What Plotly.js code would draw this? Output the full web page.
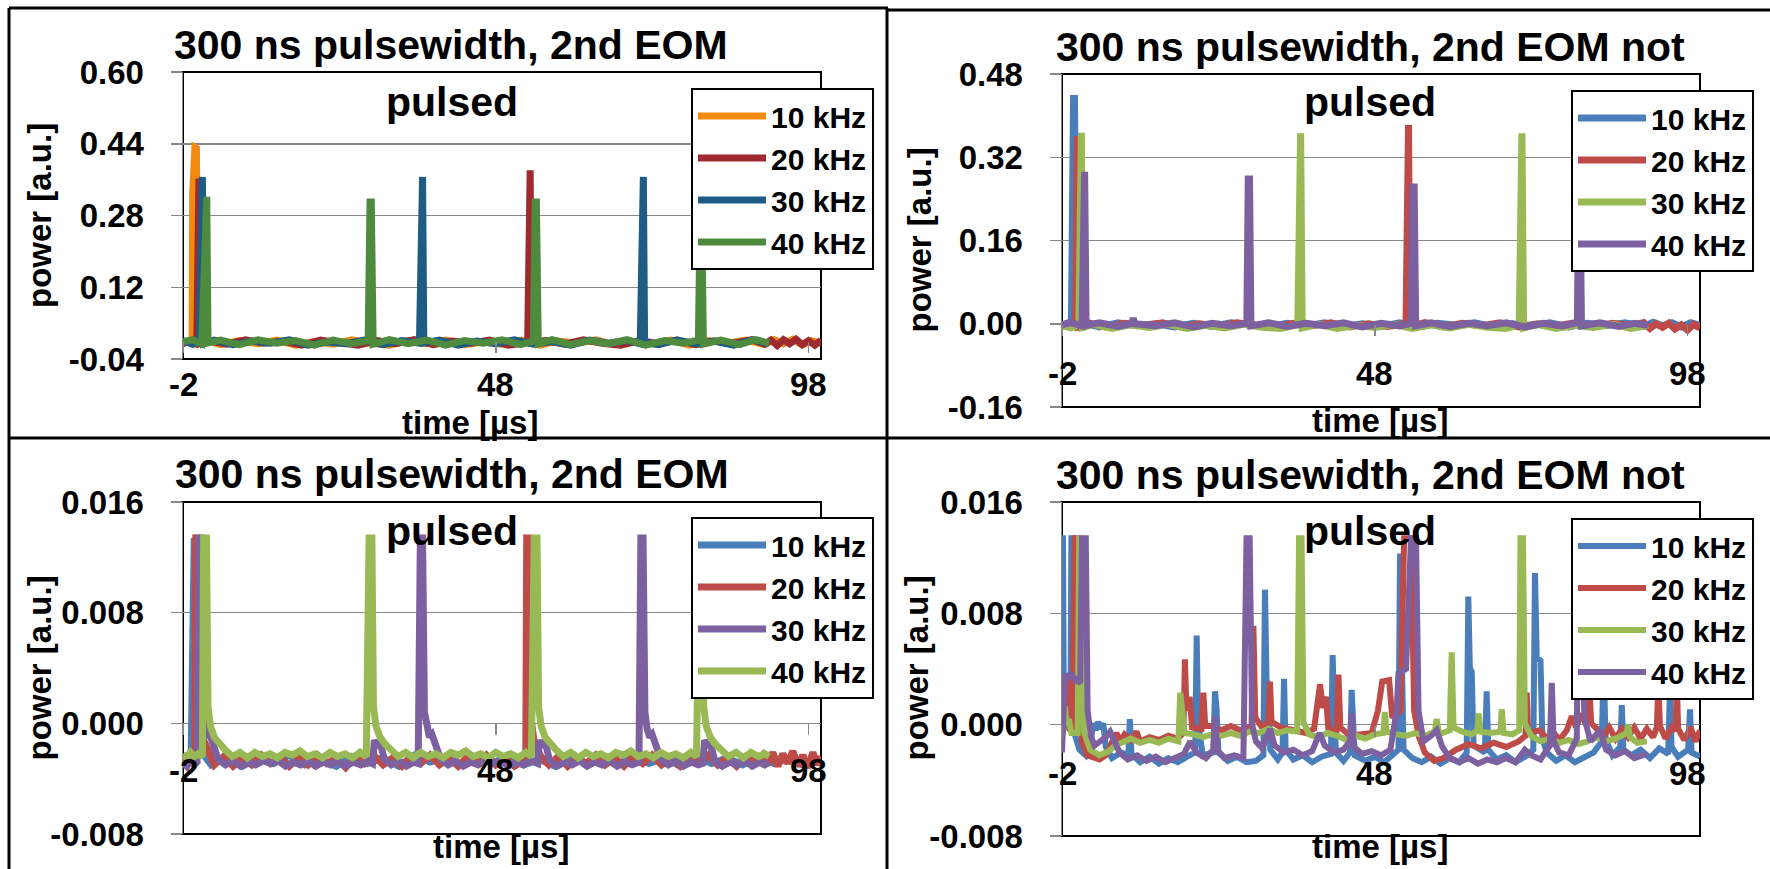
<!DOCTYPE html>
<html><head><meta charset="utf-8">
<script src="https://cdn.plot.ly/plotly-3.0.1.min.js"></script>
<style>html,body{margin:0;padding:0;background:#fff;}#chart{width:1770px;height:869px;}</style>
</head><body><div id="chart"></div>
<script>
const W = 1770, H = 869;
const FONT = 'Liberation Sans, Arial, Helvetica, sans-serif';

const seriesNames = ['10 kHz', '20 kHz', '30 kHz', '40 kHz'];
const titleLine1 = ['300 ns pulsewidth, 2nd EOM', '300 ns pulsewidth, 2nd EOM not', '300 ns pulsewidth, 2nd EOM', '300 ns pulsewidth, 2nd EOM not'];
const titleLine2 = 'pulsed';
const yAxisTitle = 'power [a.u.]';
const xAxisTitle = 'time [µs]';
const xTickVals = [-2, 48, 98];
const xTickText = ['-2', '48', '98'];
const yTickVals1 = [-0.04, 0.12, 0.28, 0.44, 0.60];
const yTickText1 = ['-0.04', '0.12', '0.28', '0.44', '0.60'];
const yTickVals2 = [-0.16, 0.00, 0.16, 0.32, 0.48];
const yTickText2 = ['-0.16', '0.00', '0.16', '0.32', '0.48'];
const yTickVals34 = [-0.008, 0.000, 0.008, 0.016];
const yTickText34 = ['-0.008', '0.000', '0.008', '0.016'];

const p1_10k = [[-2,-0.004],[-1.0,0.001],[-0.55,-0.006],[-0.45,0.33],[-0.1,0.432],[0.15,0.43],[0.35,-0.005],[1.5,0.002],[4,-0.008],[7,0.001],[10,-0.006],[13,0.002],[16,-0.009],[19,-0.001],[22,-0.007],[25,0.003],[28,-0.005],[31,-0.009],[34,0.001],[37,-0.006],[40,0.002],[43,-0.008],[46,-0.002],[49,-0.007],[52,0.002],[55,-0.009],[58,0.000],[61,-0.005],[64,0.003],[67,-0.008],[70,-0.002],[73,-0.006],[76,0.002],[79,-0.009],[82,0.001],[85,-0.005],[88,0.002],[91,-0.008],[92.5,0.003],[94,-0.006],[95.5,0.004],[97,-0.009],[98.5,0.001],[100,-0.005]];
const p1_20k = [[-2,-0.006],[-0.5,0.002],[0.2,-0.004],[0.35,0.3625],[0.55,0.3625],[0.75,-0.005],[2,0.001],[5,-0.007],[8,0.003],[11,-0.005],[14,0.000],[17,-0.009],[20,0.002],[23,-0.004],[26,-0.009],[29,0.001],[32,-0.006],[35,0.003],[38,-0.008],[41,0.000],[44,-0.005],[47,0.002],[50,-0.009],[53.1,-0.003],[53.3,0.381],[53.5,0.381],[53.7,-0.004],[56,0.001],[59,-0.007],[62,0.003],[65,-0.005],[68,-0.009],[71,0.001],[74,-0.006],[77,0.002],[80,-0.008],[83,0.000],[86,-0.005],[89,0.003],[91,-0.007],[92,0.002],[93,-0.010],[94,0.003],[95,-0.006],[96,0.004],[97,-0.008],[98,0.001],[99,-0.009],[100,0.002]];
const p1_30k = [[-2,0.001],[-0.5,-0.007],[0.6,-0.002],[0.85,0.366],[1.1,0.366],[1.3,-0.006],[3,0.002],[6,-0.008],[9,0.000],[12,-0.005],[15,0.003],[18,-0.009],[21,-0.002],[24,-0.006],[27,0.002],[30,-0.008],[33,0.001],[35.8,-0.005],[36.05,0.366],[36.3,0.366],[36.5,-0.004],[39,0.002],[42,-0.009],[45,0.000],[48,-0.006],[51,0.003],[54,-0.007],[57,-0.001],[60,-0.009],[63,0.002],[66,-0.005],[69,0.001],[71.1,-0.006],[71.35,0.366],[71.6,0.366],[71.8,-0.003],[74,-0.008],[77,0.002],[80,-0.006],[83,0.000],[86,-0.009],[89,0.002],[91.7,-0.005]];
const p1_40k = [[-2,-0.002],[-0.5,0.003],[1.0,-0.006],[1.55,0.3215],[1.8,0.3215],[2.0,-0.004],[4,0.002],[7,-0.008],[10,0.003],[13,-0.005],[16,0.001],[19,-0.009],[22,0.002],[25,-0.006],[27.6,0.001],[27.9,0.31],[28.1,0.31],[28.4,-0.007],[31,0.003],[34,-0.006],[37,0.002],[40,-0.009],[43,0.001],[46,-0.005],[49,0.003],[52,-0.008],[54.0,0.000],[54.3,0.31],[54.5,0.31],[54.8,-0.006],[57,0.003],[60,-0.008],[63,0.001],[66,-0.006],[69,0.003],[72,-0.009],[75,0.001],[78,-0.005],[80.4,0.002],[80.7,0.31],[80.9,0.31],[81.2,-0.007],[84,0.002],[87,-0.008],[89.5,0.003],[91.7,-0.004]];

const p2_10k = [[-2,-0.003],[-1.2,0.001],[-0.5,-0.005],[-0.4,0.328],[-0.15,0.433],[0.0,0.433],[0.2,-0.004],[1.5,0.001],[4,-0.006],[7,0.002],[10,-0.004],[13,0.000],[16,-0.006],[19,0.001],[22,-0.005],[25,0.002],[28,-0.003],[31,-0.006],[34,0.001],[37,-0.004],[40,0.002],[43,-0.006],[46,0.000],[49,-0.005],[52,0.002],[55,-0.006],[58,0.001],[61,-0.003],[64,0.002],[67,-0.006],[70,0.000],[73,-0.004],[76,0.002],[79,-0.006],[82,0.001],[85,-0.004],[88,0.002],[91,-0.005],[92.5,0.003],[94,-0.004],[95.5,0.002],[97,-0.006],[98.5,0.002],[100,-0.003]];
const p2_20k = [[-2,-0.005],[-0.6,0.001],[0.2,-0.004],[0.28,0.361],[0.45,0.361],[0.6,-0.005],[2,0.002],[5,-0.006],[8,0.001],[11,-0.004],[14,0.002],[17,-0.006],[20,0.000],[23,-0.005],[26,0.002],[29,-0.003],[32,-0.006],[35,0.001],[38,-0.004],[41,0.002],[44,-0.006],[47,0.000],[50,-0.005],[53.0,0.000],[53.2,0.382],[53.4,0.382],[53.6,-0.005],[56,0.002],[59,-0.006],[62,0.001],[65,-0.004],[68,0.002],[71,-0.006],[74,0.000],[77,-0.004],[80,0.002],[83,-0.006],[86,0.001],[89,-0.004],[91,0.002],[92,-0.009],[93,0.000],[94,-0.007],[95,0.001],[96,-0.010],[97,-0.002],[98,-0.012],[99,-0.001],[100,-0.008]];
const p2_30k = [[-2,-0.003],[-0.6,-0.008],[0.7,-0.002],[0.88,0.367],[1.1,0.367],[1.3,-0.007],[3,-0.001],[6,-0.009],[9,-0.002],[12,-0.007],[15,-0.001],[18,-0.009],[21,-0.003],[24,-0.008],[27,-0.001],[30,-0.007],[33,-0.009],[35.7,-0.002],[35.95,0.366],[36.15,0.366],[36.4,-0.008],[39,-0.001],[42,-0.009],[45,-0.003],[48,-0.007],[51,-0.001],[54,-0.009],[57,-0.002],[60,-0.008],[63,-0.001],[66,-0.007],[69,-0.009],[71.1,-0.002],[71.33,0.366],[71.53,0.366],[71.8,-0.008],[74,-0.001],[77,-0.009],[80,-0.003],[83,-0.007],[86,-0.001],[89,-0.009],[91.7,-0.003]];
const p2_40k = [[-2,-0.002],[-0.6,0.002],[1.2,-0.004],[1.42,0.292],[1.62,0.292],[1.85,-0.003],[4,0.002],[7,-0.005],[9.2,0.001],[9.4,0.011],[9.6,0.000],[13,-0.004],[16,0.002],[19,-0.006],[22,0.001],[25,-0.004],[27.55,0.001],[27.78,0.278],[27.98,0.278],[28.2,-0.004],[31,0.002],[34,-0.005],[37,0.001],[40,-0.004],[43,0.002],[46,-0.006],[49,0.001],[52,-0.004],[53.9,0.001],[54.1,0.263],[54.3,0.263],[54.55,-0.004],[57,0.002],[60,-0.005],[63,0.001],[66,-0.004],[69,0.002],[72,-0.006],[75,0.001],[78,-0.004],[80.4,0.002],[80.6,0.27],[80.8,0.27],[81.05,-0.004],[84,0.002],[87,-0.005],[89.5,0.001],[91.7,-0.003]];

const p3_10k = [[-2,-0.0026],[-1.3,-0.0030],[-0.7,-0.0024],[-0.55,0.0067],[-0.45,0.0134],[-0.2,0.0134],[0.05,0.0006],[0.5,-0.0012],[1.2,-0.0022],[2.5,-0.0030],[5,-0.0024],[7.5,-0.0031],[10,-0.0025],[12.5,-0.0029],[15,-0.0023],[17.5,-0.0030],[20,-0.0026],[22.5,-0.0031],[25,-0.0024],[27.5,-0.0029],[30,-0.0025],[32.5,-0.0031],[35,-0.0023],[37.5,-0.0028],[40,-0.0025],[42.5,-0.0030],[45,-0.0024],[47.5,-0.0029],[50,-0.0023],[52.5,-0.0030],[55,-0.0026],[57.5,-0.0031],[60,-0.0024],[62.5,-0.0029],[65,-0.0025],[67.5,-0.0030],[70,-0.0023],[72.5,-0.0029],[75,-0.0025],[77.5,-0.0031],[80,-0.0024],[82.5,-0.0029],[85,-0.0025],[87.5,-0.0030],[90,-0.0024],[92.5,-0.0029],[95,-0.0025],[97.5,-0.0031],[100,-0.0026]];
const p3_20k = [[-2,-0.0029],[-1,-0.0024],[-0.1,-0.0027],[0.05,0.0134],[0.35,0.0134],[0.6,0.0008],[1.1,-0.0010],[2,-0.0021],[3,-0.0030],[4.5,-0.0024],[6,-0.0031],[7.5,-0.0025],[9,-0.0030],[10.5,-0.0023],[12,-0.0029],[13.5,-0.0024],[15,-0.0031],[16.5,-0.0025],[18,-0.0030],[19.5,-0.0023],[21,-0.0029],[22.5,-0.0025],[24,-0.0032],[25.5,-0.0024],[27,-0.0029],[28.5,-0.0023],[30,-0.0030],[31.5,-0.0025],[33,-0.0031],[34.5,-0.0024],[36,-0.0029],[37.5,-0.0023],[39,-0.0030],[40.5,-0.0025],[42,-0.0031],[43.5,-0.0024],[45,-0.0029],[46.5,-0.0023],[48,-0.0030],[49.5,-0.0025],[51,-0.0031],[52.8,-0.0026],[52.95,0.0134],[53.3,0.0134],[53.55,0.0006],[54.1,-0.0012],[55.2,-0.0024],[56.5,-0.0030],[58,-0.0024],[59.5,-0.0031],[61,-0.0025],[62.5,-0.0029],[64,-0.0023],[65.5,-0.0030],[67,-0.0025],[68.5,-0.0031],[70,-0.0024],[71.5,-0.0029],[73,-0.0023],[74.5,-0.0030],[76,-0.0025],[77.5,-0.0031],[79,-0.0024],[80.5,-0.0029],[82,-0.0023],[83.5,-0.0030],[85,-0.0025],[86.5,-0.0031],[88,-0.0024],[89.5,-0.0029],[90.7,-0.0023],[91.5,-0.0030],[92.3,-0.0021],[93.1,-0.0031],[93.9,-0.0022],[94.7,-0.0029],[95.5,-0.0020],[96.3,-0.0031],[97.1,-0.0023],[97.9,-0.0032],[98.7,-0.0021],[99.4,-0.0030],[100,-0.0024]];
const p3_30k = [[-2,-0.0028],[-1.4,-0.0031],[-0.8,-0.0027],[-0.2,-0.0030],[0.25,-0.0028],[0.55,0.0134],[0.9,0.0134],[1.15,0.0008],[1.5,-0.0004],[1.9,-0.0010],[2.3,-0.0008],[2.9,-0.0017],[3.6,-0.0026],[4.8,-0.0030],[6.0,-0.0027],[7.2,-0.0031],[8.4,-0.0028],[9.6,-0.0030],[10.8,-0.0027],[12.0,-0.0029],[13.2,-0.0027],[14.4,-0.0031],[15.6,-0.0028],[16.8,-0.0030],[18.0,-0.0027],[19.2,-0.0031],[20.4,-0.0028],[21.6,-0.0030],[22.8,-0.0027],[24.0,-0.0031],[25.2,-0.0028],[26.4,-0.0030],[27.5,-0.0027],[28.3,-0.0029],[28.6,-0.0012],[29.0,-0.0017],[29.5,-0.0014],[30.2,-0.0026],[31.3,-0.0030],[32.5,-0.0027],[33.7,-0.0031],[34.9,-0.0028],[35.6,-0.0029],[35.95,0.0134],[36.3,0.0134],[36.6,0.0008],[37.0,-0.0004],[37.4,-0.0010],[37.8,-0.0008],[38.4,-0.0017],[39.2,-0.0026],[40.4,-0.0030],[41.6,-0.0027],[42.8,-0.0031],[44.0,-0.0028],[45.2,-0.0030],[46.4,-0.0027],[47.6,-0.0029],[48.8,-0.0027],[50.0,-0.0031],[51.2,-0.0028],[52.4,-0.0030],[53.6,-0.0027],[54.7,-0.0029],[55.0,-0.0012],[55.4,-0.0017],[55.9,-0.0013],[56.6,-0.0027],[57.8,-0.0031],[59.0,-0.0028],[60.2,-0.0030],[61.4,-0.0027],[62.6,-0.0031],[63.8,-0.0028],[65.0,-0.0030],[66.2,-0.0027],[67.4,-0.0031],[68.6,-0.0028],[69.8,-0.0030],[70.9,-0.0028],[71.2,0.0134],[71.55,0.0134],[71.85,0.0008],[72.2,-0.0004],[72.6,-0.0010],[73.0,-0.0008],[73.6,-0.0017],[74.4,-0.0026],[75.6,-0.0030],[76.8,-0.0027],[78.0,-0.0031],[79.2,-0.0028],[80.4,-0.0030],[81.1,-0.0029],[81.4,-0.0012],[81.8,-0.0017],[82.3,-0.0014],[83,-0.0027],[84.2,-0.0031],[85.4,-0.0028],[86.6,-0.0030],[87.8,-0.0027],[89.0,-0.0031],[90.2,-0.0028],[91.0,-0.0030],[91.7,-0.0028]];
const p3_40k = [[-2,-0.0022],[-1.4,-0.0025],[-0.8,-0.0021],[-0.2,-0.0024],[0.4,-0.0022],[1.1,-0.0024],[1.3,0.0134],[1.75,0.0134],[2.0,0.0012],[2.4,-0.0002],[3.0,-0.0010],[3.8,-0.0015],[4.7,-0.0019],[5.9,-0.0024],[7.1,-0.0021],[8.3,-0.0025],[9.5,-0.0021],[10.7,-0.0024],[11.9,-0.0022],[13.1,-0.0025],[14.3,-0.0021],[15.5,-0.0023],[16.7,-0.0020],[17.9,-0.0024],[19.1,-0.0022],[20.3,-0.0025],[21.5,-0.0021],[22.7,-0.0024],[23.9,-0.0022],[25.1,-0.0025],[26.3,-0.0021],[27.3,-0.0024],[27.75,0.0134],[28.2,0.0134],[28.45,0.0012],[28.85,-0.0002],[29.5,-0.0010],[30.3,-0.0015],[31.2,-0.0019],[32.4,-0.0024],[33.6,-0.0021],[34.8,-0.0025],[36.0,-0.0021],[37.2,-0.0024],[38.4,-0.0022],[39.6,-0.0025],[40.8,-0.0021],[42.0,-0.0023],[43.2,-0.0020],[44.4,-0.0024],[45.6,-0.0022],[46.8,-0.0025],[48.0,-0.0021],[49.2,-0.0024],[50.4,-0.0022],[51.6,-0.0025],[52.8,-0.0021],[53.7,-0.0024],[54.15,0.0134],[54.6,0.0134],[54.85,0.0012],[55.25,-0.0002],[55.9,-0.0010],[56.7,-0.0015],[57.6,-0.0019],[58.8,-0.0024],[60.0,-0.0021],[61.2,-0.0025],[62.4,-0.0021],[63.6,-0.0024],[64.8,-0.0022],[66.0,-0.0025],[67.2,-0.0021],[68.4,-0.0023],[69.6,-0.0020],[70.8,-0.0024],[72.0,-0.0022],[73.2,-0.0025],[74.4,-0.0021],[75.6,-0.0024],[76.8,-0.0022],[78.0,-0.0025],[79.2,-0.0021],[80.1,-0.0024],[80.55,0.0134],[81.0,0.0134],[81.25,0.0012],[81.65,-0.0002],[82.3,-0.0010],[83.1,-0.0015],[84,-0.0019],[85.2,-0.0024],[86.4,-0.0021],[87.6,-0.0025],[88.8,-0.0021],[90.0,-0.0024],[91.0,-0.0022],[91.7,-0.0024]];

const p4_10k = [[-2,0.0134],[-1.85,0.0134],[-1.7,0.0012],[-1.3,0.0004],[-0.9,0.0008],[-0.65,0.0002],[-0.5,0.0134],[-0.2,0.0134],[0.1,-0.0008],[0.8,-0.0018],[1.8,-0.0022],[2.6,-0.0012],[3.0,0.0001],[3.4,-0.0004],[3.8,0.0002],[4.2,-0.0003],[4.6,0.0001],[5.0,-0.0016],[6.0,-0.0024],[7.5,-0.0020],[8.6,-0.0022],[8.85,0.0004],[9.1,-0.0021],[10.5,-0.0027],[12,-0.0023],[13.5,-0.0028],[15,-0.0024],[16.5,-0.0027],[18,-0.0023],[19.3,-0.0020],[19.53,0.0064],[19.75,0.0002],[20.5,-0.0022],[22.2,-0.0020],[22.46,0.0024],[22.7,0.0012],[23.0,-0.0020],[24.5,-0.0026],[26,-0.0023],[27.5,-0.0027],[29,-0.0026],[30.2,-0.0022],[30.45,0.0097],[30.7,0.0032],[31.0,0.0028],[31.3,-0.0018],[32.5,-0.0025],[33.25,-0.0020],[33.5,0.0033],[33.75,-0.0018],[35,-0.0025],[36.5,-0.0022],[38,-0.0027],[39.5,-0.0023],[41.0,-0.0021],[41.27,0.0050],[41.5,0.0010],[41.8,-0.0020],[43,-0.0026],[44.05,-0.0020],[44.31,0.0025],[44.55,0.0005],[44.8,-0.0022],[46.5,-0.0026],[48,-0.0023],[49.5,-0.0027],[51,-0.0022],[51.8,-0.0018],[52.04,0.0123],[52.3,0.0015],[52.6,-0.0018],[54,-0.0024],[55.5,-0.0027],[57,-0.0023],[58.5,-0.0028],[60,-0.0024],[61.5,-0.0027],[62.7,-0.0020],[62.96,0.0092],[63.2,0.0041],[63.5,0.0038],[63.8,-0.0015],[65.6,-0.0020],[65.89,0.0024],[66.15,-0.0018],[67.5,-0.0025],[69,-0.0022],[70.5,-0.0027],[72,-0.0023],[73.35,-0.0018],[73.62,0.0109],[73.9,0.0048],[74.5,0.0046],[74.8,-0.0010],[75.5,-0.0020],[77,-0.0026],[78.5,-0.0022],[80,-0.0027],[81.5,-0.0023],[83,-0.0020],[84.3,-0.0012],[84.6,0.0045],[84.9,-0.0010],[86,-0.0022],[87.25,-0.0016],[87.5,0.0014],[87.75,-0.0018],[89,-0.0022],[90.5,-0.0018],[92,-0.0024],[93.5,-0.0017],[94.9,-0.0021],[95.2,0.0025],[95.45,-0.0016],[96.5,-0.0023],[98.1,-0.0018],[98.4,0.0011],[98.65,-0.0020],[100,-0.0023]];
const p4_20k = [[-2,-0.0008],[-1.6,0.0002],[-1.45,0.0031],[-1.25,0.0031],[-1.05,-0.0002],[-0.4,-0.0005],[0.05,0.0134],[0.4,0.0134],[0.7,0.0010],[1.2,-0.0012],[2,-0.0022],[3,-0.0024],[4,-0.0025],[5,-0.0022],[6,-0.0012],[6.7,-0.0006],[7.3,-0.0012],[8,-0.0007],[9,-0.0011],[9.9,-0.0005],[10.5,-0.0012],[12,-0.0009],[13.5,-0.0011],[15,-0.0008],[16.5,-0.0010],[17.4,-0.0006],[17.65,0.0047],[17.9,0.0010],[18.4,0.0020],[18.8,-0.0002],[20.3,-0.0003],[20.6,0.0023],[20.9,-0.0001],[22,-0.0001],[23.5,-0.0004],[25,-0.0001],[26.5,-0.0004],[28.3,-0.0001],[28.6,0.0071],[28.9,0.0005],[30,-0.0002],[31.0,0.0002],[31.25,0.0031],[31.5,0.0002],[33,-0.0002],[35,-0.0004],[37,-0.0006],[38.3,-0.0003],[38.8,0.0018],[39.25,0.0029],[39.7,0.0012],[40.2,0.0020],[40.6,-0.0004],[41.9,-0.0004],[42.2,0.0036],[42.5,-0.0002],[44,-0.0008],[46,-0.0007],[47.5,-0.0006],[48.5,0.0010],[49.2,0.0031],[50.3,0.0032],[50.8,0.0005],[52.1,0.0010],[52.7,0.0134],[53.8,0.0134],[54.3,0.0010],[55,-0.0008],[56,-0.0020],[57.5,-0.0026],[59,-0.0024],[61,-0.0018],[63,-0.0014],[65,-0.0017],[67,-0.0013],[69,-0.0016],[71,-0.0012],[72.1,-0.0008],[72.3,0.0023],[72.5,-0.0006],[74.4,-0.0004],[75.5,-0.0010],[76.5,-0.0005],[77.5,-0.0011],[78.7,-0.0004],[79.5,0.0006],[80.2,-0.0002],[81,0.0008],[81.8,0.0000],[82.2,0.0040],[82.6,0.0001],[83.5,-0.0003],[84.5,-0.0009],[85.5,-0.0002],[86.5,-0.0010],[87.5,-0.0003],[88.5,-0.0009],[89.5,-0.0002],[90.5,-0.0010],[91.5,-0.0003],[92.5,-0.0009],[93.1,-0.0002],[93.34,0.0030],[93.6,-0.0001],[94.5,-0.0010],[95.5,-0.0002],[96.1,-0.0004],[96.3,0.0030],[96.5,-0.0003],[97.5,-0.0011],[98.5,-0.0002],[99.3,-0.0012],[100,-0.0004]];
const p4_30k = [[-2,0.0003],[-1.8,-0.0004],[-1.5,0.0013],[-1.3,0.0000],[-0.9,0.0004],[-0.5,-0.0006],[0.5,-0.0006],[0.75,0.0134],[1.15,0.0134],[1.5,-0.0005],[2.5,-0.0018],[4,-0.0022],[5.5,-0.0019],[6.5,-0.0015],[7.5,-0.0013],[9,-0.0010],[10.5,-0.0013],[12,-0.0011],[13.5,-0.0013],[15,-0.0010],[16.6,-0.0012],[16.9,0.0023],[17.2,0.0011],[17.6,-0.0006],[19,-0.0007],[20.5,-0.0009],[22,-0.0007],[23.5,-0.0008],[25,-0.0006],[26.5,-0.0008],[28,-0.0005],[29.5,-0.0006],[31,-0.0003],[32.5,-0.0006],[34,-0.0004],[35.6,-0.0005],[35.9,0.0134],[36.3,0.0134],[36.6,0.0002],[37.5,-0.0007],[39,-0.0009],[40.5,-0.0006],[42,-0.0008],[43.5,-0.0011],[45,-0.0008],[46.5,-0.0010],[48,-0.0007],[49.4,-0.0006],[49.6,0.0009],[49.9,-0.0005],[51.5,-0.0007],[53,-0.0008],[54.5,-0.0006],[56,-0.0008],[57.6,-0.0005],[57.9,0.0004],[58.3,-0.0007],[60.0,-0.0004],[60.3,0.0052],[60.6,-0.0002],[62,-0.0005],[63.5,-0.0007],[64.4,-0.0004],[64.6,0.0008],[64.9,-0.0005],[66.5,-0.0006],[68.1,-0.0005],[68.3,0.0011],[68.6,-0.0006],[70,-0.0007],[71.1,-0.0004],[71.3,0.0134],[71.7,0.0134],[72,0.0001],[73,-0.0008],[74.5,-0.0012],[76,-0.0010],[77.5,-0.0013],[79,-0.0011],[80.5,-0.0014],[82,-0.0012],[83.5,-0.0009],[85,-0.0012],[86.5,-0.0010],[88.3,-0.0006],[88.5,0.0000],[88.8,-0.0009],[90,-0.0013],[91.5,-0.0012]];
const p4_40k = [[-2,-0.0020],[-1.8,0.0010],[-1.5,0.0036],[-1.0,0.0034],[-0.5,0.0036],[0.2,0.0032],[0.9,0.0030],[1.2,0.0134],[1.8,0.0134],[2.1,0.0010],[2.6,-0.0008],[3.2,-0.0015],[4.2,-0.0012],[5.0,-0.0009],[5.7,-0.0005],[6.4,-0.0012],[7.2,-0.0020],[8.5,-0.0025],[10,-0.0022],[11.5,-0.0026],[13,-0.0023],[14.5,-0.0027],[16,-0.0024],[17.5,-0.0021],[18.5,-0.0012],[19.5,-0.0020],[21,-0.0024],[22.2,-0.0018],[22.46,0.0006],[22.8,-0.0018],[24,-0.0024],[25.5,-0.0022],[27.0,-0.0024],[27.5,0.0134],[28.0,0.0134],[28.4,0.0000],[29,-0.0012],[30,-0.0017],[31.25,-0.0003],[32,-0.0015],[33.5,-0.0020],[35,-0.0018],[36.5,-0.0022],[38,-0.0019],[39.2,-0.0006],[40,-0.0015],[41.5,-0.0020],[43,-0.0018],[44.0,-0.0012],[44.3,0.0008],[44.6,-0.0016],[46,-0.0021],[47.5,-0.0019],[49,-0.0022],[50.5,-0.0018],[51.5,0.0010],[51.8,0.0037],[53.0,0.0040],[53.8,0.0134],[54.6,0.0134],[55.0,0.0010],[55.8,-0.0012],[57.0,-0.0008],[57.9,-0.0004],[58.8,-0.0016],[60,-0.0024],[61.5,-0.0027],[63,-0.0024],[64.5,-0.0028],[66,-0.0025],[67.5,-0.0027],[69,-0.0024],[70.5,-0.0027],[72,-0.0018],[73,-0.0022],[74.5,-0.0025],[76.0,-0.0015],[76.3,0.0030],[76.6,-0.0012],[77.5,-0.0020],[79,-0.0022],[80.3,-0.0010],[80.6,0.0134],[81.1,0.0134],[81.5,0.0005],[82.5,-0.0012],[84.0,-0.0004],[85,-0.0018],[86.5,-0.0022],[88,-0.0019],[89.5,-0.0024],[91.5,-0.0021]];

const colorsP1 = ['#F28A10', '#9E2A2F', '#1E5C84', '#4F8B3F'];
const cBlue = '#4A7EBB', cRed = '#BE4B48', cGreen = '#98B954', cPurple = '#7D60A0';
const colorsP2 = [cBlue, cRed, cGreen, cPurple];
const colorsP3 = [cBlue, cRed, cPurple, cGreen];
const colorsP4 = [cBlue, cRed, cGreen, cPurple];

// layout geometry (pixels)
const panels = [
  {series: [p1_10k, p1_20k, p1_30k, p1_40k], colors: colorsP1, yr: [-0.04, 0.60], tv: yTickVals1, tt: yTickText1, lw: 7, xl: 384,
   box: {l: 183, r: 821, t: 72, b: 359}, t1: {x: 451, y: 45}, t2: {x: 452, y: 102}, yt: {x: 39, y: 216}, xt: {x: 470, y: 422}, lg: {x: 691, y: 88}},
  {series: [p2_10k, p2_20k, p2_30k, p2_40k], colors: colorsP2, yr: [-0.16, 0.48], tv: yTickVals2, tt: yTickText2, lw: 7, xl: 373,
   box: {l: 1062, r: 1700, t: 74, b: 407}, t1: {x: 1370, y: 46.5}, t2: {x: 1370, y: 102}, yt: {x: 918.5, y: 240}, xt: {x: 1380, y: 421}, lg: {x: 1571, y: 90}},
  {series: [p3_10k, p3_20k, p3_30k, p3_40k], colors: colorsP3, yr: [-0.008, 0.016], tv: yTickVals34, tt: yTickText34, lw: 7, xl: 770,
   box: {l: 183, r: 821, t: 502, b: 834}, t1: {x: 452, y: 473.5}, t2: {x: 452, y: 531}, yt: {x: 38.5, y: 668}, xt: {x: 501, y: 846}, lg: {x: 691, y: 517}},
  {series: [p4_10k, p4_20k, p4_30k, p4_40k], colors: colorsP4, yr: [-0.008, 0.016], tv: yTickVals34, tt: yTickText34, lw: 6, xl: 773,
   box: {l: 1062, r: 1700, t: 502, b: 836}, t1: {x: 1370, y: 474.5}, t2: {x: 1370, y: 531}, yt: {x: 915.5, y: 668}, xt: {x: 1380, y: 846}, lg: {x: 1571, y: 518}}
];

const px = v => v / W;
const py = v => 1 - v / H;
const bold = (size) => ({family: FONT, size: size, color: '#000', weight: 'bold'});

const traces = [];
const layout = {
  width: W, height: H, margin: {l: 0, r: 0, t: 0, b: 0},
  paper_bgcolor: '#fff', plot_bgcolor: 'rgba(0,0,0,0)',
  showlegend: true, annotations: [], shapes: [], font: {family: FONT}
};

panels.forEach((p, i) => {
  const n = i === 0 ? '' : String(i + 1);
  const xa = 'x' + n, ya = 'y' + n, lgName = 'legend' + n;
  p.series.forEach((s, j) => {
    traces.push({
      type: 'scatter', mode: 'lines', name: seriesNames[j],
      x: s.map(d => d[0]), y: s.map(d => d[1]),
      xaxis: xa, yaxis: ya, legend: lgName,
      line: {color: p.colors[j], width: p.lw},
      hoverinfo: 'skip'
    });
  });
  const yDom = [py(p.box.b), py(p.box.t)];
  const zeroPos = yDom[0] + (0 - p.yr[0]) / (p.yr[1] - p.yr[0]) * (yDom[1] - yDom[0]);
  layout['xaxis' + n] = {
    domain: [px(p.box.l), px(p.box.r)], anchor: 'free', position: zeroPos,
    range: [-2, 100], tickmode: 'array', tickvals: xTickVals, ticktext: xTickText,
    ticks: 'outside', ticklen: 11, tickwidth: 1.5, tickcolor: '#888',
    showticklabels: false, showline: false, showgrid: false, zeroline: false, fixedrange: true
  };
  layout['yaxis' + n] = {
    domain: yDom, anchor: xa, range: p.yr, tickmode: 'array', tickvals: p.tv, ticktext: p.tt,
    ticks: 'outside', ticklen: 11, tickwidth: 1.5, tickcolor: '#888',
    showline: true, linecolor: '#888', linewidth: 1.5,
    showgrid: true, gridcolor: '#888', gridwidth: 1.5, zeroline: false,
    tickfont: bold(33), ticklabelstandoff: 20, fixedrange: true
  };
  layout[lgName] = {
    x: px(p.lg.x), y: py(p.lg.y), xanchor: 'left', yanchor: 'top', xref: 'paper', yref: 'paper',
    bgcolor: '#fff', bordercolor: '#000', borderwidth: 2, font: bold(30),
    itemwidth: 68, tracegroupgap: 0, itemclick: false, itemdoubleclick: false
  };
  layout.shapes.push({type: 'rect', xref: xa + ' domain', yref: ya + ' domain', x0: 0, x1: 1, y0: 0, y1: 1,
    line: {color: '#000', width: 2}, layer: 'below'});
  xTickVals.forEach((v, k) => {
    layout.annotations.push({xref: xa, yref: 'paper', x: v, y: py(p.xl), xanchor: 'center', yanchor: 'middle',
      text: xTickText[k], showarrow: false, font: bold(33)});
  });
  layout.annotations.push({xref: 'paper', yref: 'paper', x: px(p.t1.x), y: py(p.t1.y), xanchor: 'center', yanchor: 'middle',
    text: titleLine1[i], showarrow: false, font: bold(41)});
  layout.annotations.push({xref: 'paper', yref: 'paper', x: px(p.t2.x), y: py(p.t2.y), xanchor: 'center', yanchor: 'middle',
    text: titleLine2, showarrow: false, font: bold(41)});
  layout.annotations.push({xref: 'paper', yref: 'paper', x: px(p.yt.x), y: py(p.yt.y), xanchor: 'center', yanchor: 'middle',
    text: yAxisTitle, textangle: -90, showarrow: false, font: bold(33)});
  layout.annotations.push({xref: 'paper', yref: 'paper', x: px(p.xt.x), y: py(p.xt.y), xanchor: 'center', yanchor: 'middle',
    text: xAxisTitle, showarrow: false, font: bold(33)});
});

const frameLine = {color: '#000', width: 3};
[
  [9, 8, 888, 8], [887, 10, W, 10], [9, 8, 9, H], [887, 8, 887, H], [9, 438, W, 438]
].forEach(([xa0, ya0, xa1, ya1]) => {
  layout.shapes.push({type: 'line', xref: 'paper', yref: 'paper', x0: px(xa0), y0: py(ya0), x1: px(xa1), y1: py(ya1),
    line: frameLine, layer: 'above'});
});

Plotly.newPlot('chart', traces, layout, {staticPlot: true, displayModeBar: false});
</script>
</body></html>
